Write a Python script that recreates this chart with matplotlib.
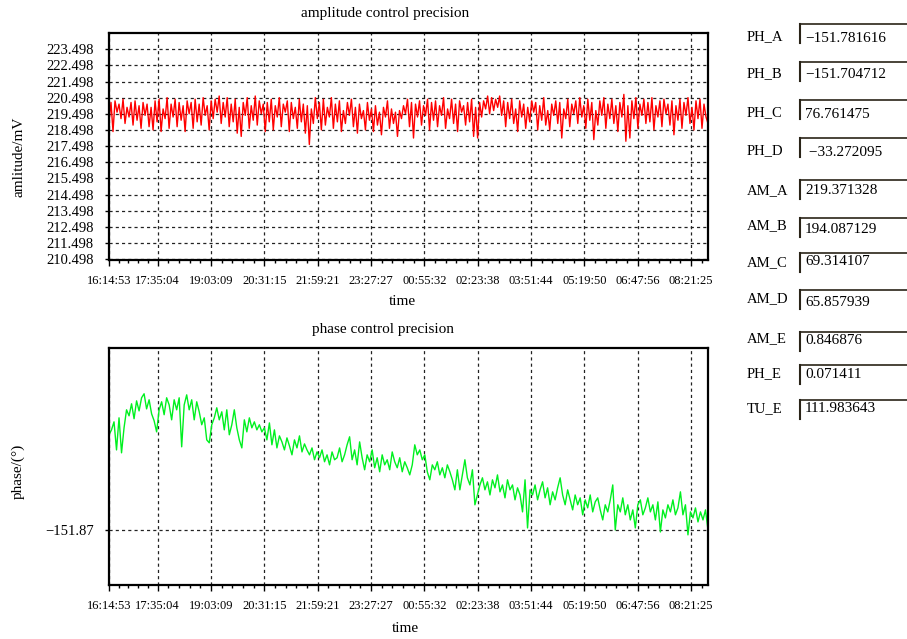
import numpy as np
import matplotlib.pyplot as plt
from matplotlib.lines import Line2D

plt.rcParams['font.family'] = ['Liberation Serif', 'DejaVu Serif']

# time axis (seconds since 16:14:53)
tick_labels = ['16:14:53', '17:35:04', '19:03:09', '20:31:15', '21:59:21', '23:27:27',
               '00:55:32', '02:23:38', '03:51:44', '05:19:50', '06:47:56', '08:21:25']
tick_seconds = [0, 4811, 10097, 15383, 20669, 25955, 31241, 36527, 41813, 47099, 52385, 57671]
x_end = 59350

amp_ticks = [210.498, 211.498, 212.498, 213.498, 214.498, 215.498, 216.498,
             217.498, 218.498, 219.498, 220.498, 221.498, 222.498, 223.498]

amplitude = [
    219.0, 220.2, 218.4, 220.3, 219.6, 220.1, 219.2, 220.4, 218.9, 219.9, 219.3, 220.2, 218.8, 220.3, 219.1, 220.0, 218.6, 220.2, 219.4, 220.1,
    218.7, 219.9, 218.5, 220.3, 219.0, 220.4, 218.4, 219.8, 219.2, 220.5, 218.6, 220.1, 219.3, 220.4, 218.7, 220.2, 219.1, 220.0, 218.4, 220.3,
    219.5, 220.2, 218.6, 220.4, 219.0, 220.1, 218.8, 220.5, 219.4, 220.0, 218.5, 220.3, 219.2, 220.4, 219.6, 220.6, 218.9, 220.2, 219.3, 220.5,
    218.7, 220.1, 219.0, 220.4, 218.3, 219.9, 218.1, 220.2, 219.4, 220.5, 218.6, 220.0, 219.1, 220.6, 218.8, 220.3, 219.5, 220.1, 218.4, 220.2,
    219.0, 220.4, 218.5, 220.0, 219.3, 220.5, 218.7, 220.1, 219.6, 220.3, 218.4, 220.2, 219.2, 219.9, 218.6, 220.4, 219.0, 220.1, 218.3, 220.0,
    217.6, 219.8, 218.9, 220.5, 219.2, 220.2, 218.5, 220.4, 218.8, 219.9, 219.3, 220.5, 218.6, 220.1, 219.0, 220.3, 218.4, 219.7, 218.9, 220.2,
    219.4, 220.4, 218.7, 219.9, 218.3, 220.1, 219.2, 219.7, 218.5, 220.2, 219.1, 219.8, 218.4, 220.0, 218.8, 219.6, 218.2, 219.9, 219.3, 220.3,
    218.6, 219.8, 218.9, 219.6, 218.1, 219.7, 219.2, 220.0, 219.5, 220.4, 218.7, 220.2, 218.0, 220.1, 219.3, 220.3, 218.8, 220.0, 219.4, 220.4,
    218.5, 220.2, 219.1, 220.3, 218.7, 220.0, 219.4, 220.5, 218.6, 219.8, 219.2, 220.4, 218.9, 220.1, 218.4, 220.3, 219.6, 220.0, 218.8, 220.2,
    219.0, 220.4, 218.1, 219.9, 218.0, 220.2, 219.3, 220.3, 219.8, 220.6, 219.5, 220.5, 219.7, 220.4, 219.9, 220.6, 219.4, 220.3, 218.7, 220.2,
    219.2, 220.4, 218.9, 219.8, 218.4, 220.3, 219.3, 220.1, 218.6, 219.9, 219.0, 220.3, 219.6, 220.2, 218.5, 220.0, 219.1, 220.5, 218.8, 219.7,
    218.5, 220.1, 219.4, 220.3, 218.9, 220.2, 218.0, 219.8, 219.2, 220.4, 218.7, 220.1, 219.5, 220.3, 218.9, 220.5, 219.3, 220.0, 218.6, 220.4,
    219.1, 220.2, 217.9, 219.7, 218.8, 220.3, 219.4, 220.5, 218.6, 220.1, 219.2, 220.4, 218.9, 220.0, 218.4, 220.2, 219.3, 220.7, 217.8, 220.0,
    218.0, 220.3, 219.2, 220.5, 218.6, 220.1, 219.4, 220.4, 218.9, 220.2, 219.0, 220.5, 218.5, 220.0, 219.3, 220.3, 218.7, 220.4, 219.5, 220.1,
    218.8, 220.3, 218.2, 220.0, 219.1, 220.4, 218.6, 220.2, 219.4, 220.5, 218.9, 219.9, 218.5, 220.3, 219.2, 220.4, 218.6, 220.1, 219.3, 218.9,
]

phase = [
    -151.8176, -151.8149, -151.8105, -151.8259, -151.8083, -151.8275, -151.8138, -151.8039, -151.8072, -151.8006,
    -151.8088, -151.7990, -151.8045, -151.7973, -151.7951, -151.8034, -151.7984, -151.8061, -151.8099, -151.8160,
    -151.8039, -151.7995, -151.8066, -151.7973, -151.8012, -151.8094, -151.7984, -151.8039, -151.7973, -151.8242,
    -151.8012, -151.7957, -151.8039, -151.7984, -151.8094, -151.7995, -151.8050, -151.8121, -151.8083, -151.8204,
    -151.8220, -151.8121, -151.8083, -151.8028, -151.8094, -151.8050, -151.8149, -151.8039, -151.8176, -151.8121,
    -151.8039, -151.8138, -151.8204, -151.8248, -151.8094, -151.8160, -151.8083, -151.8138, -151.8105, -151.8149,
    -151.8121, -151.8160, -151.8138, -151.8204, -151.8111, -151.8231, -151.8149, -151.8248, -151.8182, -151.8215,
    -151.8259, -151.8193, -151.8237, -151.8286, -151.8204, -151.8248, -151.8182, -151.8270, -151.8226, -151.8259,
    -151.8286, -151.8248, -151.8313, -151.8270, -151.8302, -151.8259, -151.8324, -151.8286, -151.8341, -151.8270,
    -151.8313, -151.8302, -151.8248, -151.8324, -151.8286, -151.8231, -151.8187, -151.8313, -151.8259, -151.8341,
    -151.8215, -151.8302, -151.8368, -151.8286, -151.8324, -151.8259, -151.8357, -151.8302, -151.8379, -151.8286,
    -151.8341, -151.8313, -151.8368, -151.8270, -151.8324, -151.8357, -151.8302, -151.8379, -151.8324, -151.8357,
    -151.8396, -151.8341, -151.8231, -151.8286, -151.8259, -151.8313, -151.8286, -151.8379, -151.8423, -151.8341,
    -151.8368, -151.8324, -151.8396, -151.8357, -151.8412, -151.8341, -151.8379, -151.8423, -151.8478, -151.8368,
    -151.8478, -151.8396, -151.8313, -151.8412, -151.8451, -151.8368, -151.8560, -151.8506, -151.8451, -151.8412,
    -151.8478, -151.8434, -151.8506, -151.8423, -151.8467, -151.8396, -151.8489, -151.8451, -151.8522, -151.8423,
    -151.8478, -151.8451, -151.8533, -151.8467, -151.8506, -151.8599, -151.8423, -151.8687, -151.8478, -151.8506,
    -151.8451, -151.8533, -151.8478, -151.8434, -151.8522, -151.8467, -151.8560, -151.8489, -151.8533, -151.8467,
    -151.8412, -151.8506, -151.8560, -151.8478, -151.8533, -151.8588, -151.8506, -151.8560, -151.8522, -151.8615,
    -151.8533, -151.8577, -151.8506, -151.8599, -151.8544, -151.8522, -151.8588, -151.8643, -151.8560, -151.8599,
    -151.8533, -151.8451, -151.8698, -151.8560, -151.8599, -151.8522, -151.8615, -151.8560, -151.8643, -151.8588,
    -151.8687, -151.8560, -151.8533, -151.8615, -151.8577, -151.8522, -151.8599, -151.8560, -151.8643, -151.8544,
    -151.8709, -151.8588, -151.8632, -151.8560, -151.8599, -151.8533, -151.8615, -151.8577, -151.8489, -151.8615,
    -151.8560, -151.8725, -151.8599, -151.8632, -151.8577, -151.8654, -151.8599, -151.8643, -151.8588, -151.8698,
]
phase_tick = -151.87

panel_names = ['PH_A', 'PH_B', 'PH_C', 'PH_D', 'AM_A', 'AM_B', 'AM_C', 'AM_D', 'AM_E', 'PH_E', 'TU_E']
panel_values = ['\u2212151.781616', '\u2212151.704712', '76.761475', ' \u221233.272095', '219.371328',
                '194.087129', '69.314107', '65.857939', '0.846876', '0.071411', '111.983643']

W, H = 907, 639
fig = plt.figure(figsize=(W / 100, H / 100), dpi=100)


def fx(px):
    return px / W


def fy(py):
    return 1 - py / H


ax1 = fig.add_axes([fx(109), fy(260), fx(708) - fx(109), fy(33) - fy(260)])
ax2 = fig.add_axes([fx(109), fy(585), fx(708) - fx(109), fy(348) - fy(585)])

ax1.plot(np.linspace(0, x_end, len(amplitude)), amplitude, color='#ff0000', linewidth=1.0)
ax2.plot(np.linspace(0, x_end, len(phase)), phase, color='#00f020', linewidth=1.0)

minors = []
for a, b in zip(tick_seconds[:-1], tick_seconds[1:]):
    minors += list(np.linspace(a, b, 6)[1:-1])
minors.append(tick_seconds[-1] + (tick_seconds[-1] - tick_seconds[-2]) / 5)

for ax in (ax1, ax2):
    ax.set_xlim(0, x_end)
    ax.set_xticks(tick_seconds)
    ax.set_xticklabels(tick_labels, fontsize=9)
    ax.set_xticks(minors, minor=True)
    ax.grid(True, which='major', color='#222222', linestyle=(0, (2.5, 2.5)), linewidth=0.9)
    for s in ax.spines.values():
        s.set_linewidth(1.6)
    ax.tick_params(axis='x', which='major', length=4, width=1, pad=7)
    ax.tick_params(axis='x', which='minor', length=2.5, width=1)
    ax.tick_params(axis='y', length=3, width=1, pad=8, labelsize=10.5)

ax1.set_ylim(210.45, 224.5)
ax1.set_yticks(amp_ticks)
ax1.set_yticklabels(['%.3f' % v for v in amp_ticks])

ax2.set_ylim(-151.90, -151.77)
ax2.set_yticks([phase_tick])
ax2.set_yticklabels(['\u2212%.2f' % abs(phase_tick)])

# titles and axis labels
fig.text(fx(385), fy(13), 'amplitude control precision', ha='center', va='center', fontsize=11)
fig.text(fx(383), fy(329), 'phase control precision', ha='center', va='center', fontsize=11)
fig.text(fx(402), fy(302), 'time', ha='center', va='center', fontsize=11)
fig.text(fx(405), fy(629), 'time', ha='center', va='center', fontsize=11)
fig.text(fx(19), fy(157), 'amlitude/mV', ha='center', va='center', rotation=90, fontsize=11)
fig.text(fx(18), fy(471), 'phase/(\u00b0)', ha='center', va='center', rotation=90, fontsize=11)

# value boxes on the right
box_tops = [24, 62, 100, 138, 180, 218, 253, 290, 332, 365, 400]
label_ys = [37, 74, 113, 151, 191, 226, 263, 299, 339, 374, 409]
value_ys = [38, 75, 114, 152, 191, 229, 262, 303, 340, 375, 409]
for name, val, top, ly, vy in zip(panel_names, panel_values, box_tops, label_ys, value_ys):
    fig.text(fx(747), fy(ly), name, ha='left', va='center', fontsize=10.5)
    fig.text(fx(805), fy(vy), val, ha='left', va='center', fontsize=11)
    fig.add_artist(Line2D([fx(800), fx(907)], [fy(top), fy(top)], transform=fig.transFigure,
                          color='#2a2418', linewidth=1.2))
    fig.add_artist(Line2D([fx(800), fx(800)], [fy(top), fy(top + 19)], transform=fig.transFigure,
                          color='#2a2418', linewidth=1.5))

fig.savefig('out.png', dpi=100)
